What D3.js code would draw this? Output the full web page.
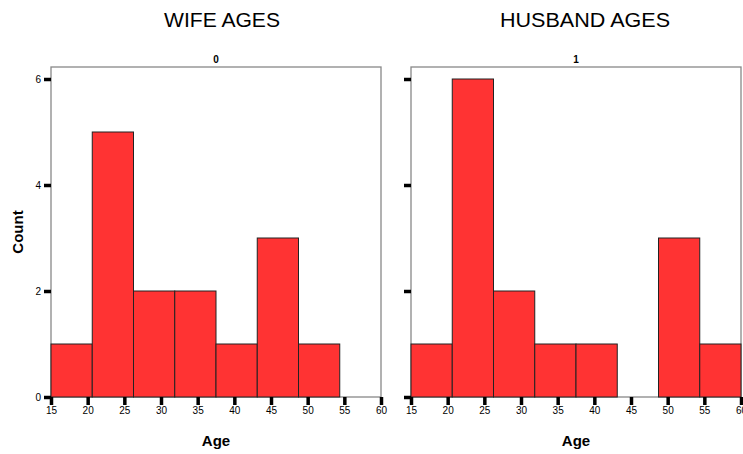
<!DOCTYPE html>
<html><head><meta charset="utf-8">
<script src="https://cdn.jsdelivr.net/npm/d3@7"></script>
<style>body{margin:0;background:#fff}svg{display:block;font-family:"Liberation Sans",Arial,sans-serif}</style>
</head><body><svg id="c" width="743" height="454"></svg>
<script>
const titles = ["WIFE AGES", "HUSBAND AGES"];
const panelLabels = ["0", "1"];
const binEdges = [15, 20.625, 26.25, 31.875, 37.5, 43.125, 48.75, 54.375, 60];
const wifeCounts = [1, 5, 2, 2, 1, 3, 1, 0];
const husbandCounts = [1, 6, 2, 1, 1, 0, 3, 1];
const xTicks = [15, 20, 25, 30, 35, 40, 45, 50, 55, 60];
const yTicks = [0, 2, 4, 6];
const series = [wifeCounts, husbandCounts];

const svg = d3.select("#c");
const panels = [{x0: 51, x1: 381, tx: 222}, {x0: 411, x1: 741, tx: 585}];
const yTop = 67, yBot = 397;
const y = d3.scaleLinear().domain([0, 6]).range([yBot, 79]);

panels.forEach((p, i) => {
  const x = d3.scaleLinear().domain([15, 60]).range([p.x0, p.x1]);
  const g = svg.append("g");
  g.append("rect").attr("x", p.x0).attr("y", yTop).attr("width", p.x1 - p.x0).attr("height", yBot - yTop)
    .attr("fill", "none").attr("stroke", "#888").attr("stroke-width", 1.3);
  const bins = series[i].map((c, k) => ({x0: binEdges[k], x1: binEdges[k + 1], c}));
  g.selectAll(".bar").data(bins.filter(d => d.c > 0)).join("rect")
    .attr("x", d => x(d.x0)).attr("y", d => y(d.c))
    .attr("width", d => x(d.x1) - x(d.x0)).attr("height", d => y(0) - y(d.c))
    .attr("fill", "#ff3333").attr("stroke", "#222").attr("stroke-width", 1);
  // x axis
  const xa = g.append("g").attr("transform", `translate(0,${yBot})`)
    .call(d3.axisBottom(x).tickValues(xTicks).tickSize(8).tickPadding(2).tickFormat(d3.format("d")));
  xa.select(".domain").remove();
  xa.selectAll("line").attr("stroke", "#000").attr("stroke-width", 3.5);
  xa.selectAll("text").attr("font-size", 10).attr("fill", "#000").attr("font-family", "Liberation Sans, Arial, sans-serif");
  // y axis
  const ya = g.append("g").attr("transform", `translate(${p.x0},0)`)
    .call(d3.axisLeft(y).tickValues(yTicks).tickSize(7).tickPadding(3).tickFormat(i === 0 ? d3.format("d") : () => ""));
  ya.select(".domain").remove();
  ya.selectAll("line").attr("stroke", "#000").attr("stroke-width", 3.5);
  ya.selectAll("text").attr("font-size", 10).attr("fill", "#000").attr("font-family", "Liberation Sans, Arial, sans-serif");
  // titles
  svg.append("text").attr("x", p.tx).attr("y", 27).attr("text-anchor", "middle")
    .attr("font-size", 20).attr("fill", "#000").attr("textLength", i === 0 ? 116 : 170).attr("lengthAdjust", "spacingAndGlyphs").text(titles[i]);
  svg.append("text").attr("x", (p.x0 + p.x1) / 2).attr("y", 63).attr("text-anchor", "middle")
    .attr("font-size", 10).attr("font-weight", "bold").text(panelLabels[i]);
  svg.append("text").attr("x", (p.x0 + p.x1) / 2).attr("y", 446).attr("text-anchor", "middle")
    .attr("font-size", 15).attr("font-weight", "bold").text("Age");
});
svg.append("text").attr("transform", "translate(23,232) rotate(-90)").attr("text-anchor", "middle")
  .attr("font-size", 15).attr("font-weight", "bold").text("Count");
</script></body></html>
